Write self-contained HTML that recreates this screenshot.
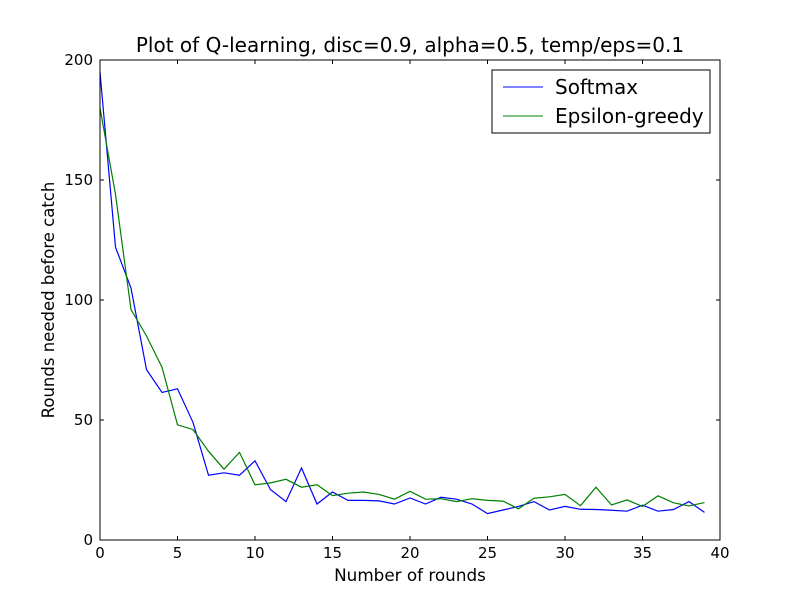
<!DOCTYPE html>
<html><head><meta charset="utf-8"><style>
body{margin:0;background:#fff}
svg{display:block;font-family:"DejaVu Sans","Liberation Sans",sans-serif}
</style></head><body>
<svg width="800" height="600" id="chart">
<rect width="800" height="600" fill="#fff"/>
<text x="410" y="52" font-size="20" text-anchor="middle">Plot of Q-learning, disc=0.9, alpha=0.5, temp/eps=0.1</text>
<text x="410" y="581" font-size="16.8" text-anchor="middle">Number of rounds</text>
<text transform="translate(54,300) rotate(-90)" font-size="16.5" text-anchor="middle">Rounds needed before catch</text>
<g id="ticks"></g>
<g id="lines"></g>
<rect x="100" y="60" width="620" height="480" fill="none" stroke="#000" stroke-width="1"/>
<g>
<rect x="492" y="70" width="218" height="63" fill="#fff" stroke="#000"/>
<g><line x1="503" y1="87" x2="543" y2="87" stroke="#0000ff"/><text x="555" y="94" font-size="20">Softmax</text></g>
<g><line x1="503" y1="116" x2="543" y2="116" stroke="#008000"/><text x="555" y="123" font-size="20">Epsilon-greedy</text></g>
</g>
</svg>
<script>
const softmax=[195,122,105,71,61.5,63,49,27,28,27,33,21,16,30,15,20,16.5,16.5,16.3,15,17.5,15,17.8,17,15,11,12.5,14,16,12.5,14,12.8,12.7,12.4,12,14.5,12,12.7,16,11.5];
const epsilon=[180,144,96,85,72,48,46,37,29.5,36.5,23,23.8,25.3,22,23,18.5,19.5,20,19,17,20.3,17,17.2,16,17.2,16.5,16.2,13,17.4,18,19,14.3,22,14.6,16.7,14,18.4,15.5,14.2,15.6];
const xTicks=[0,5,10,15,20,25,30,35,40];
const yTicks=[0,50,100,150,200];
const X=v=>100+v*620/40, Y=v=>540-v*480/200;
const NS="http://www.w3.org/2000/svg";
const tg=document.getElementById('ticks'), lg=document.getElementById('lines');
function mk(t,a,p){const e=document.createElementNS(NS,t);for(const k in a)e.setAttribute(k,a[k]);p.appendChild(e);return e;}
xTicks.forEach(v=>{
 const g=mk('g',{},tg);
 
 
 mk('line',{x1:X(v),x2:X(v),y1:540,y2:536,stroke:'#000'},g);
 mk('line',{x1:X(v),x2:X(v),y1:60,y2:64,stroke:'#000'},g);
 const t=mk('text',{x:X(v),y:558,'font-size':15,'text-anchor':'middle'},g);t.textContent=v;
});
yTicks.forEach(v=>{
 const g=mk('g',{},tg);
 
 
 mk('line',{x1:100,x2:104,y1:Y(v),y2:Y(v),stroke:'#000'},g);
 mk('line',{x1:716,x2:720,y1:Y(v),y2:Y(v),stroke:'#000'},g);
 const t=mk('text',{x:93,y:Y(v)+5,'font-size':15,'text-anchor':'end'},g);t.textContent=v;
});
function line(data,color,name){
 const p=mk('polyline',{points:data.map((v,i)=>X(i)+','+Y(v)).join(' '),fill:'none',stroke:color,'stroke-width':1.2},lg);
 
 
}
line(softmax,'#0000ff','softmax-line');
line(epsilon,'#008000','epsilon-greedy-line');
</script>
</body></html>
